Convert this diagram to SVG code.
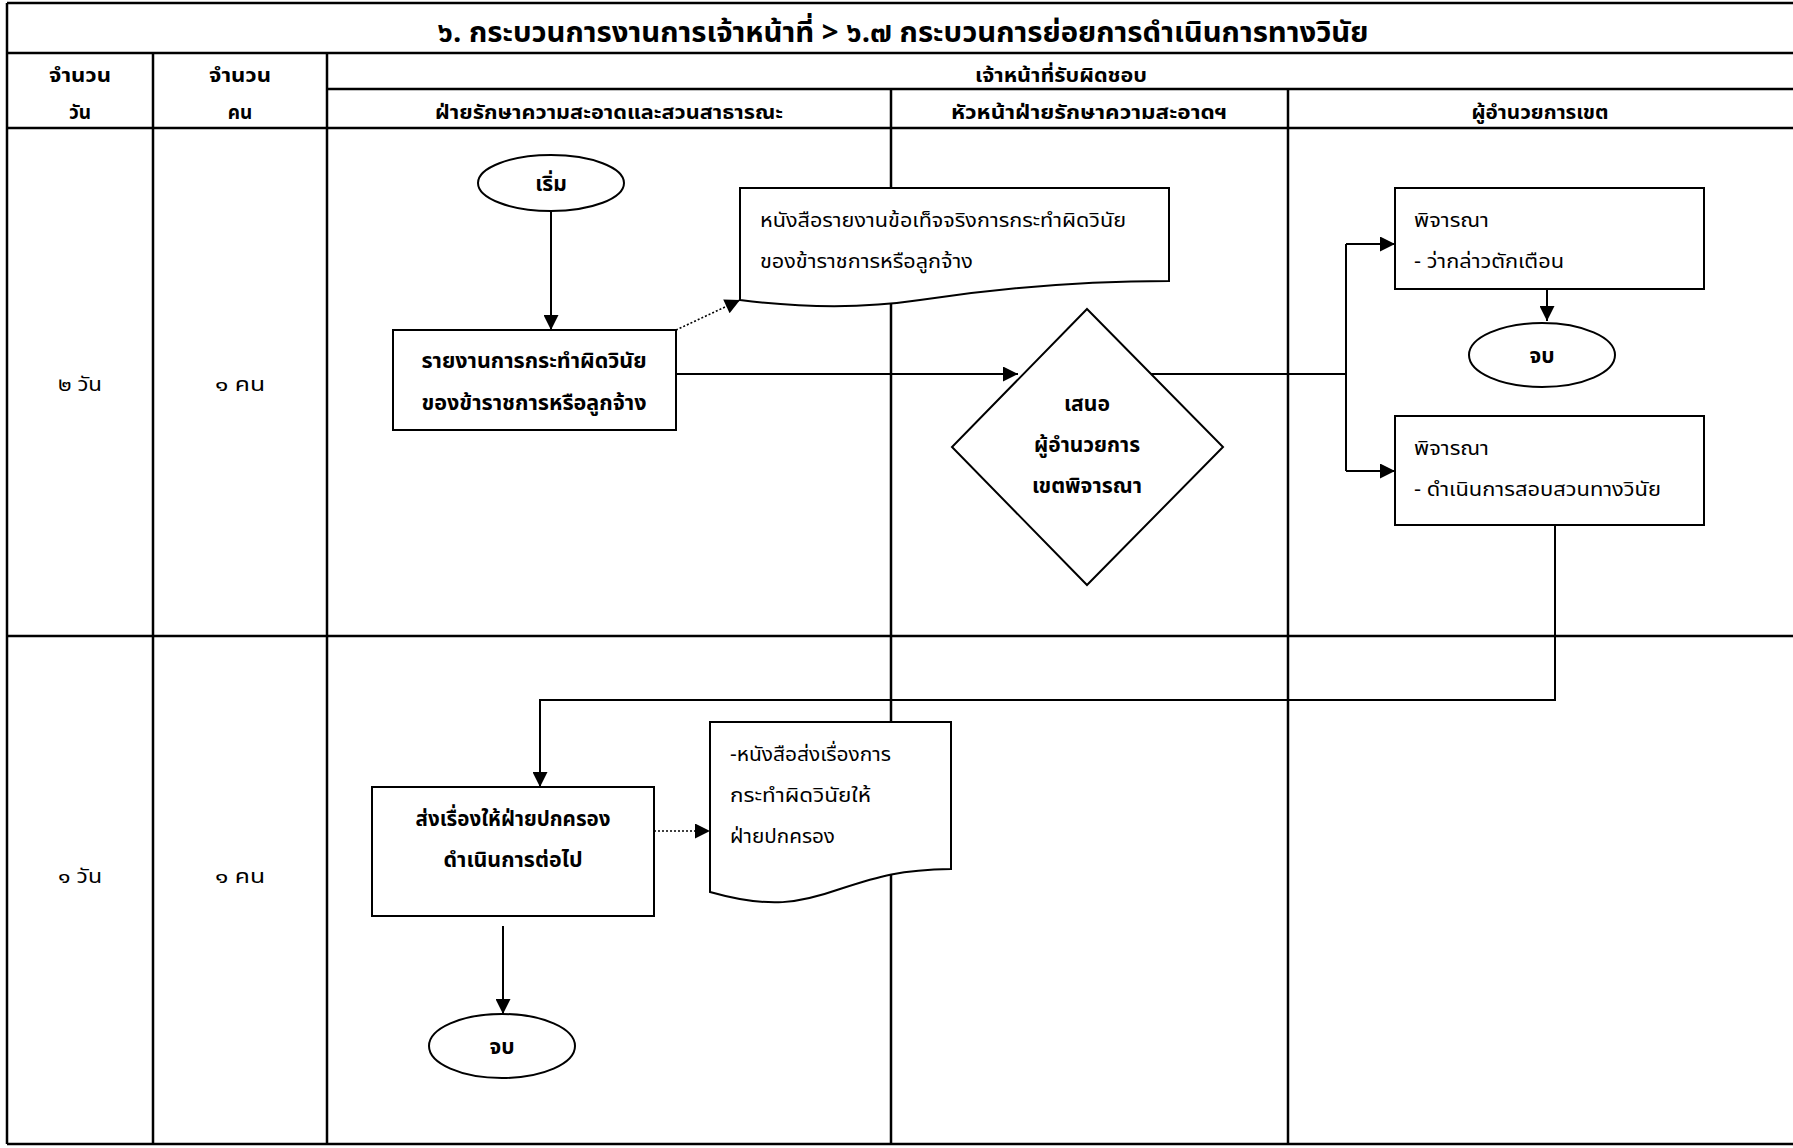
<svg xmlns="http://www.w3.org/2000/svg" width="1793" height="1148" viewBox="0 0 1793 1148">
<style>
  .grid { stroke: #000; stroke-width: 2.5; fill: none; }
  .shape { fill: #fff; stroke: #000; stroke-width: 2; }
  .conn { fill: none; stroke: #000; stroke-width: 2; }
  .dot { fill: none; stroke: #000; stroke-width: 1.6; stroke-dasharray: 2 2; }
  text { font-family: "Noto Sans Thai", "Noto Sans Thai UI", "Loma", "Garuda", "Tahoma", "DejaVu Sans", sans-serif; fill: #000; }
  .title { font-size: 28px; font-weight: bold; text-anchor: middle; }
  .hdr { font-size: 19px; font-weight: bold; text-anchor: middle; }
  .lbl { font-size: 20px; text-anchor: middle; }
  .b { font-size: 21px; font-weight: bold; text-anchor: middle; }
  .r { font-size: 20px; }
</style>
<defs>
  <marker id="ah" viewBox="0 0 10 10" refX="10" refY="5" markerWidth="18" markerHeight="15" markerUnits="userSpaceOnUse" orient="auto">
    <path d="M0,0 L10,5 L0,10 Z" fill="#000"/>
  </marker>
</defs>
<rect x="0" y="0" width="1793" height="1148" fill="#fff"/>
<g id="table">
  <path class="grid" d="M7,3 H1793 M7,53 H1793 M327,89 H1793 M7,128 H1793 M7,636 H1793 M7,1144 H1793 M7,3 V1144 M153,53 V1144 M327,53 V1144 M891,89 V1144 M1288,89 V1144"/>
  <text class="title" x="903" y="42" textLength="931" lengthAdjust="spacingAndGlyphs">๖. กระบวนการงานการเจ้าหน้าที่ &gt; ๖.๗ กระบวนการย่อยการดำเนินการทางวินัย</text>
  <text class="hdr" x="80" y="82" textLength="62" lengthAdjust="spacingAndGlyphs">จำนวน</text>
  <text class="hdr" x="80" y="119">วัน</text>
  <text class="hdr" x="240" y="82" textLength="62" lengthAdjust="spacingAndGlyphs">จำนวน</text>
  <text class="hdr" x="240" y="119">คน</text>
  <text class="hdr" x="1061" y="82" textLength="172" lengthAdjust="spacingAndGlyphs">เจ้าหน้าที่รับผิดชอบ</text>
  <text class="hdr" x="609" y="119" textLength="348" lengthAdjust="spacingAndGlyphs">ฝ่ายรักษาความสะอาดและสวนสาธารณะ</text>
  <text class="hdr" x="1089" y="119" textLength="276" lengthAdjust="spacingAndGlyphs">หัวหน้าฝ่ายรักษาความสะอาดฯ</text>
  <text class="hdr" x="1540" y="119" textLength="137" lengthAdjust="spacingAndGlyphs">ผู้อำนวยการเขต</text>
  <text class="lbl" x="80" y="391" textLength="44" lengthAdjust="spacingAndGlyphs">๒ วัน</text>
  <text class="lbl" x="240" y="391" textLength="50" lengthAdjust="spacingAndGlyphs">๑ คน</text>
  <text class="lbl" x="80" y="883" textLength="44" lengthAdjust="spacingAndGlyphs">๑ วัน</text>
  <text class="lbl" x="240" y="883" textLength="50" lengthAdjust="spacingAndGlyphs">๑ คน</text>
</g>
<g id="connectors">
  <path class="conn" d="M551,211 V330" marker-end="url(#ah)"/>
  <path class="dot" d="M676,330 L740,300" marker-end="url(#ah)"/>
  <path class="conn" d="M676,374 H1018" marker-end="url(#ah)"/>
  <path class="conn" d="M1151,374 H1346 M1346,244 V471"/>
  <path class="conn" d="M1346,244 H1395" marker-end="url(#ah)"/>
  <path class="conn" d="M1346,471 H1395" marker-end="url(#ah)"/>
  <path class="conn" d="M1547,289 V321" marker-end="url(#ah)"/>
  <path class="conn" d="M1555,525 V700 H540 V787" marker-end="url(#ah)"/>
  <path class="dot" d="M654,831 H710" marker-end="url(#ah)"/>
  <path class="conn" d="M503,926 V1014" marker-end="url(#ah)"/>
</g>
<g id="start">
  <ellipse class="shape" cx="551" cy="183" rx="73" ry="28"/>
  <text class="b" x="551" y="191">เริ่ม</text>
</g>
<g id="report">
  <rect class="shape" x="393" y="330" width="283" height="100"/>
  <text class="b" x="534" y="368" textLength="225" lengthAdjust="spacingAndGlyphs">รายงานการกระทำผิดวินัย</text>
  <text class="b" x="534" y="410" textLength="225" lengthAdjust="spacingAndGlyphs">ของข้าราชการหรือลูกจ้าง</text>
</g>
<g id="doc1">
  <path class="shape" d="M740,188 H1169 V281 C1080,281 1000,288 920,300 C880,306 820,310 740,300 Z"/>
  <text class="r" x="760" y="227" textLength="366" lengthAdjust="spacingAndGlyphs">หนังสือรายงานข้อเท็จจริงการกระทำผิดวินัย</text>
  <text class="r" x="760" y="268" textLength="213" lengthAdjust="spacingAndGlyphs">ของข้าราชการหรือลูกจ้าง</text>
</g>
<g id="decision">
  <path class="shape" d="M1087,309 L1223,447 L1087,585 L952,447 Z"/>
  <text class="b" x="1087" y="411" textLength="46" lengthAdjust="spacingAndGlyphs">เสนอ</text>
  <text class="b" x="1087" y="452" textLength="106" lengthAdjust="spacingAndGlyphs">ผู้อำนวยการ</text>
  <text class="b" x="1087" y="493" textLength="110" lengthAdjust="spacingAndGlyphs">เขตพิจารณา</text>
</g>
<g id="warn">
  <rect class="shape" x="1395" y="188" width="309" height="101"/>
  <text class="r" x="1414" y="227" textLength="75" lengthAdjust="spacingAndGlyphs">พิจารณา</text>
  <text class="r" x="1414" y="268" textLength="150" lengthAdjust="spacingAndGlyphs">- ว่ากล่าวตักเตือน</text>
</g>
<g id="end1">
  <ellipse class="shape" cx="1542" cy="355" rx="73" ry="32"/>
  <text class="b" x="1542" y="363">จบ</text>
</g>
<g id="investigate">
  <rect class="shape" x="1395" y="416" width="309" height="109"/>
  <text class="r" x="1414" y="455" textLength="75" lengthAdjust="spacingAndGlyphs">พิจารณา</text>
  <text class="r" x="1414" y="496" textLength="247" lengthAdjust="spacingAndGlyphs">- ดำเนินการสอบสวนทางวินัย</text>
</g>
<g id="forward">
  <rect class="shape" x="372" y="787" width="282" height="129"/>
  <text class="b" x="513" y="826" textLength="195" lengthAdjust="spacingAndGlyphs">ส่งเรื่องให้ฝ่ายปกครอง</text>
  <text class="b" x="513" y="867" textLength="139" lengthAdjust="spacingAndGlyphs">ดำเนินการต่อไป</text>
</g>
<g id="doc2">
  <path class="shape" d="M710,722 H951 V869 C900,870 880,876 840,889 C800,903 770,909 710,892 Z"/>
  <text class="r" x="730" y="761" textLength="161" lengthAdjust="spacingAndGlyphs">-หนังสือส่งเรื่องการ</text>
  <text class="r" x="730" y="802" textLength="141" lengthAdjust="spacingAndGlyphs">กระทำผิดวินัยให้</text>
  <text class="r" x="730" y="843" textLength="105" lengthAdjust="spacingAndGlyphs">ฝ่ายปกครอง</text>
</g>
<g id="end2">
  <ellipse class="shape" cx="502" cy="1046" rx="73" ry="32"/>
  <text class="b" x="502" y="1054">จบ</text>
</g>
</svg>
